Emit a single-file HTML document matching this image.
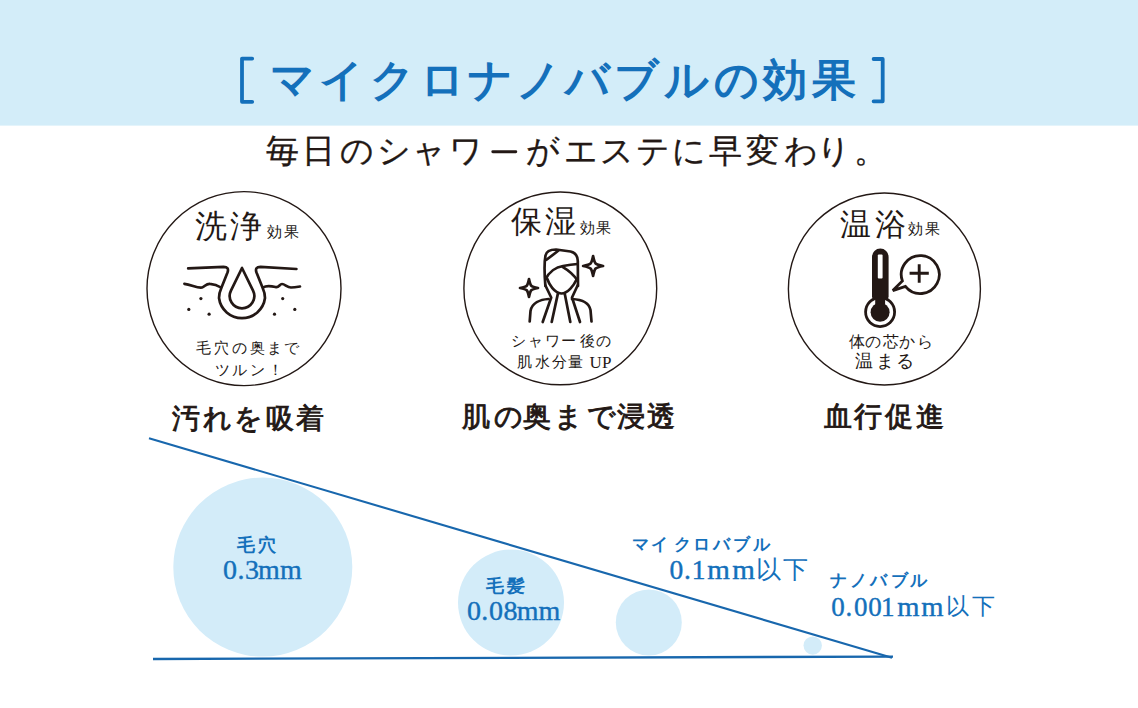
<!DOCTYPE html>
<html lang="ja"><head><meta charset="utf-8">
<style>
html,body{margin:0;padding:0;}
body{width:1138px;height:708px;position:relative;overflow:hidden;background:#fff;font-family:"Liberation Sans",sans-serif;color:#231815;}
.a{position:absolute;white-space:nowrap;line-height:1;}
svg{position:absolute;left:0;top:0;}
</style></head><body>
<svg width="1138" height="708" viewBox="0 0 1138 708">
  <rect x="0" y="0" width="1138" height="125.6" fill="#d3edf9"/>
  <path d="M252.2,58.6 L242,58.6 L242,101.8 L252.2,101.8" fill="none" stroke="#1470bb" stroke-width="3.8" stroke-linecap="round" stroke-linejoin="round"/>
  <path d="M873.6,59 L882.7,59 L882.7,101.3 L873.6,101.3" fill="none" stroke="#1470bb" stroke-width="3.8" stroke-linecap="round" stroke-linejoin="round"/>
  <g fill="none" stroke="#231815" stroke-width="1.4">
    <circle cx="244" cy="288.6" r="97"/>
    <circle cx="560.3" cy="288.4" r="96.4"/>
    <circle cx="884.4" cy="289" r="96"/>
  </g>
  <line x1="492.8" y1="151.8" x2="515.8" y2="151.8" stroke="#231815" stroke-width="2.9" stroke-linecap="round"/>
  <!-- icon 1 pore -->
  <g fill="none" stroke="#231815" stroke-width="2.7" stroke-linecap="round" stroke-linejoin="round">
    <path d="M188.2,268.4 L223.5,266.8 Q229.5,266.8 227.5,272.5 L221.5,287.5 Q219,293 219,298 A23.2,23.2 0 0 0 265,298 Q265,293 262.5,287.5 L256.5,272.5 Q254.5,266.8 260.5,266.8 L296.4,269"/>
    <path d="M242,268 L230.95,290.6 A12.3,12.3 0 1 0 253.05,290.6 Z"/>
    <path d="M184.4,283.8 C192,285 198,288.5 202,287.5 C205,286.5 206,283.5 210,283.8 C214,284 218,285.5 221,287.5"/>
    <path d="M263,287.5 C266,285.5 271,286 275.5,287 C279,288 279.5,284 282,284 C285,284 287,287.5 291,287.5 C294,287.5 297,287 300,286.5"/>
  </g>
  <g fill="#231815">
    <circle cx="200.9" cy="298.6" r="1.6"/><circle cx="188.8" cy="309.4" r="1.6"/><circle cx="209.1" cy="314.2" r="1.6"/>
    <circle cx="282.7" cy="298.6" r="1.6"/><circle cx="294.8" cy="309.4" r="1.6"/><circle cx="274.5" cy="314.2" r="1.6"/>
  </g>
  <!-- icon 2 person -->
  <g fill="none" stroke="#231815" stroke-width="2.7" stroke-linecap="round" stroke-linejoin="round">
    <path d="M545.4,286 C544.5,275 544.2,262 545.5,255.5 C546.5,250.5 551,249.5 556,249.5 L570.5,251.5 C575,252.5 577.6,256 577.8,261 L578,286"/>
    <path d="M546.5,259.8 L558.2,250.8"/>
    <path d="M545.4,279.5 C549,272 556,267 563,266 C568,265.2 573,264.5 577.5,264"/>
    <path d="M562.5,266.8 C568,270 574,275 577.5,280.5"/>
    <path d="M547.3,279 C549,284 554,293 561.3,293.5 C568,293.5 574,285 576.3,280"/>
    <path d="M545.4,285.5 L551.2,297.5 L542.7,322"/>
    <path d="M557.9,293.6 L551.7,322"/>
    <path d="M564.7,293.6 L570.3,322"/>
    <path d="M577.6,285.5 L572,297.5 L580,322"/>
    <path d="M529.7,321.5 L530.5,311 C532,303 540,299.5 548.5,299"/>
    <path d="M572,299 C582,299.5 589,303 590.5,310 L591.5,321.5"/>
    <path d="M529.00,279.00 C530.53,286.47 530.53,286.47 538.00,288.00 C530.53,289.53 530.53,289.53 529.00,297.00 C527.47,289.53 527.47,289.53 520.00,288.00 C527.47,286.47 527.47,286.47 529.00,279.00 Z"/>
    <path d="M593.10,256.00 C594.80,264.30 594.80,264.30 603.10,266.00 C594.80,267.70 594.80,267.70 593.10,276.00 C591.40,267.70 591.40,267.70 583.10,266.00 C591.40,264.30 591.40,264.30 593.10,256.00 Z"/>
  </g>
  <!-- icon 3 thermometer -->
  <g>
    <rect x="872" y="248.6" width="16.6" height="56" rx="8.3" fill="#231815"/>
    <circle cx="880.1" cy="312.1" r="15.9" fill="#231815"/>
    <circle cx="880.1" cy="312.1" r="13.1" fill="#fff"/>
    <rect x="875.2" y="290" width="9.9" height="20" fill="#231815"/>
    <circle cx="880.1" cy="312.3" r="9.5" fill="#231815"/>
    <rect x="877.8" y="254.6" width="4.8" height="24" rx="1" fill="#fff"/>
    <path d="M902.4,281 A19,19 0 1 1 905.4,286.4 L892.8,290.6 Z" fill="none" stroke="#231815" stroke-width="2.8" stroke-linejoin="miter"/>
    <path d="M909.6,273.3 L928.8,273.3 M919.2,264.2 L919.2,282.8" stroke="#231815" stroke-width="2.9"/>
  </g>
  <!-- bubbles -->
  <g fill="#d3ecf9">
    <circle cx="262.8" cy="567.1" r="89.5"/>
    <circle cx="511" cy="602.6" r="53"/>
    <circle cx="648.8" cy="622.4" r="33"/>
    <circle cx="812.7" cy="645.6" r="9.2"/>
  </g>
  <line x1="149" y1="438.2" x2="892" y2="657.8" stroke="#1867ad" stroke-width="2.1"/>
  <line x1="153" y1="659" x2="893" y2="656.6" stroke="#1867ad" stroke-width="2.3"/>
</svg>

<div class="a" style="left:270.2px;top:57.5px;font-family:'Liberation Sans',sans-serif;font-size:44px;font-weight:bold;color:#1470bb">マ</div>
<div class="a" style="left:318.6px;top:57.5px;font-family:'Liberation Sans',sans-serif;font-size:44px;font-weight:bold;color:#1470bb">イ</div>
<div class="a" style="left:369.5px;top:57.5px;font-family:'Liberation Sans',sans-serif;font-size:44px;font-weight:bold;color:#1470bb">ク</div>
<div class="a" style="left:419.7px;top:57.5px;font-family:'Liberation Sans',sans-serif;font-size:44px;font-weight:bold;color:#1470bb">ロ</div>
<div class="a" style="left:468.0px;top:57.5px;font-family:'Liberation Sans',sans-serif;font-size:44px;font-weight:bold;color:#1470bb">ナ</div>
<div class="a" style="left:516.0px;top:57.5px;font-family:'Liberation Sans',sans-serif;font-size:44px;font-weight:bold;color:#1470bb">ノ</div>
<div class="a" style="left:564.7px;top:57.5px;font-family:'Liberation Sans',sans-serif;font-size:44px;font-weight:bold;color:#1470bb">バ</div>
<div class="a" style="left:614.2px;top:57.5px;font-family:'Liberation Sans',sans-serif;font-size:44px;font-weight:bold;color:#1470bb">ブ</div>
<div class="a" style="left:663.5px;top:57.5px;font-family:'Liberation Sans',sans-serif;font-size:44px;font-weight:bold;color:#1470bb">ル</div>
<div class="a" style="left:714.0px;top:57.5px;font-family:'Liberation Sans',sans-serif;font-size:44px;font-weight:bold;color:#1470bb">の</div>
<div class="a" style="left:762.7px;top:57.5px;font-family:'Liberation Sans',sans-serif;font-size:44px;font-weight:bold;color:#1470bb">効</div>
<div class="a" style="left:812.0px;top:57.5px;font-family:'Liberation Sans',sans-serif;font-size:44px;font-weight:bold;color:#1470bb">果</div>
<div class="a" style="left:265.7px;top:134.2px;font-family:'Liberation Sans',sans-serif;font-size:33px;color:#231815;-webkit-text-stroke:0.3px #231815">毎</div>
<div class="a" style="left:301.8px;top:134.2px;font-family:'Liberation Sans',sans-serif;font-size:33px;color:#231815;-webkit-text-stroke:0.3px #231815">日</div>
<div class="a" style="left:339.7px;top:134.2px;font-family:'Liberation Sans',sans-serif;font-size:33px;color:#231815;-webkit-text-stroke:0.3px #231815">の</div>
<div class="a" style="left:377.0px;top:134.2px;font-family:'Liberation Sans',sans-serif;font-size:33px;color:#231815;-webkit-text-stroke:0.3px #231815">シ</div>
<div class="a" style="left:411.5px;top:134.2px;font-family:'Liberation Sans',sans-serif;font-size:33px;color:#231815;-webkit-text-stroke:0.3px #231815">ャ</div>
<div class="a" style="left:449.2px;top:134.2px;font-family:'Liberation Sans',sans-serif;font-size:33px;color:#231815;-webkit-text-stroke:0.3px #231815">ワ</div>
<div class="a" style="left:525.5px;top:134.2px;font-family:'Liberation Sans',sans-serif;font-size:33px;color:#231815;-webkit-text-stroke:0.3px #231815">が</div>
<div class="a" style="left:563.5px;top:134.2px;font-family:'Liberation Sans',sans-serif;font-size:33px;color:#231815;-webkit-text-stroke:0.3px #231815">エ</div>
<div class="a" style="left:600.2px;top:134.2px;font-family:'Liberation Sans',sans-serif;font-size:33px;color:#231815;-webkit-text-stroke:0.3px #231815">ス</div>
<div class="a" style="left:635.5px;top:134.2px;font-family:'Liberation Sans',sans-serif;font-size:33px;color:#231815;-webkit-text-stroke:0.3px #231815">テ</div>
<div class="a" style="left:672.2px;top:134.2px;font-family:'Liberation Sans',sans-serif;font-size:33px;color:#231815;-webkit-text-stroke:0.3px #231815">に</div>
<div class="a" style="left:709.2px;top:134.2px;font-family:'Liberation Sans',sans-serif;font-size:33px;color:#231815;-webkit-text-stroke:0.3px #231815">早</div>
<div class="a" style="left:746.0px;top:134.2px;font-family:'Liberation Sans',sans-serif;font-size:33px;color:#231815;-webkit-text-stroke:0.3px #231815">変</div>
<div class="a" style="left:783.7px;top:134.2px;font-family:'Liberation Sans',sans-serif;font-size:33px;color:#231815;-webkit-text-stroke:0.3px #231815">わ</div>
<div class="a" style="left:816.8px;top:134.2px;font-family:'Liberation Sans',sans-serif;font-size:33px;color:#231815;-webkit-text-stroke:0.3px #231815">り</div>
<div class="a" style="left:854.0px;top:134.2px;font-family:'Liberation Sans',sans-serif;font-size:33px;color:#231815;-webkit-text-stroke:0.3px #231815">。</div>
<div class="a" style="left:194.9px;top:210.0px;font-family:'Liberation Sans',sans-serif;font-size:32px;color:#231815">洗</div>
<div class="a" style="left:229.6px;top:210.0px;font-family:'Liberation Sans',sans-serif;font-size:32px;color:#231815">浄</div>
<div class="a" style="left:266.6px;top:224.2px;font-family:'Liberation Sans',sans-serif;font-size:15px;color:#231815">効</div>
<div class="a" style="left:284.3px;top:224.2px;font-family:'Liberation Sans',sans-serif;font-size:15px;color:#231815">果</div>
<div class="a" style="left:195.7px;top:339.7px;font-family:'Liberation Sans',sans-serif;font-size:15px;color:#231815">毛</div>
<div class="a" style="left:214.4px;top:339.7px;font-family:'Liberation Sans',sans-serif;font-size:15px;color:#231815">穴</div>
<div class="a" style="left:232.0px;top:339.7px;font-family:'Liberation Sans',sans-serif;font-size:15px;color:#231815">の</div>
<div class="a" style="left:249.7px;top:339.7px;font-family:'Liberation Sans',sans-serif;font-size:15px;color:#231815">奥</div>
<div class="a" style="left:267.4px;top:339.7px;font-family:'Liberation Sans',sans-serif;font-size:15px;color:#231815">ま</div>
<div class="a" style="left:284.3px;top:339.7px;font-family:'Liberation Sans',sans-serif;font-size:15px;color:#231815">で</div>
<div class="a" style="left:215.4px;top:361.5px;font-family:'Liberation Sans',sans-serif;font-size:15px;color:#231815">ツ</div>
<div class="a" style="left:232.4px;top:361.5px;font-family:'Liberation Sans',sans-serif;font-size:15px;color:#231815">ル</div>
<div class="a" style="left:249.8px;top:361.5px;font-family:'Liberation Sans',sans-serif;font-size:15px;color:#231815">ン</div>
<div class="a" style="left:267.9px;top:361.5px;font-family:'Liberation Sans',sans-serif;font-size:15px;color:#231815">！</div>
<div class="a" style="left:511.4px;top:205.9px;font-family:'Liberation Sans',sans-serif;font-size:31px;color:#231815">保</div>
<div class="a" style="left:544.8px;top:205.9px;font-family:'Liberation Sans',sans-serif;font-size:31px;color:#231815">湿</div>
<div class="a" style="left:579.5px;top:220.0px;font-family:'Liberation Sans',sans-serif;font-size:15px;color:#231815">効</div>
<div class="a" style="left:596.4px;top:220.0px;font-family:'Liberation Sans',sans-serif;font-size:15px;color:#231815">果</div>
<div class="a" style="left:510.7px;top:332.6px;font-family:'Liberation Sans',sans-serif;font-size:15px;color:#231815">シ</div>
<div class="a" style="left:528.1px;top:332.6px;font-family:'Liberation Sans',sans-serif;font-size:15px;color:#231815">ャ</div>
<div class="a" style="left:544.7px;top:332.6px;font-family:'Liberation Sans',sans-serif;font-size:15px;color:#231815">ワ</div>
<div class="a" style="left:561.0px;top:332.6px;font-family:'Liberation Sans',sans-serif;font-size:15px;color:#231815">ー</div>
<div class="a" style="left:579.5px;top:332.6px;font-family:'Liberation Sans',sans-serif;font-size:15px;color:#231815">後</div>
<div class="a" style="left:595.5px;top:332.6px;font-family:'Liberation Sans',sans-serif;font-size:15px;color:#231815">の</div>
<div class="a" style="left:517.0px;top:354.2px;font-family:'Liberation Sans',sans-serif;font-size:15px;color:#231815">肌</div>
<div class="a" style="left:534.7px;top:354.2px;font-family:'Liberation Sans',sans-serif;font-size:15px;color:#231815">水</div>
<div class="a" style="left:552.3px;top:354.2px;font-family:'Liberation Sans',sans-serif;font-size:15px;color:#231815">分</div>
<div class="a" style="left:568.4px;top:354.2px;font-family:'Liberation Sans',sans-serif;font-size:15px;color:#231815">量</div>
<div class="a" style="left:839.8px;top:208.5px;font-family:'Liberation Sans',sans-serif;font-size:31px;color:#231815">温</div>
<div class="a" style="left:874.9px;top:208.5px;font-family:'Liberation Sans',sans-serif;font-size:31px;color:#231815">浴</div>
<div class="a" style="left:907.9px;top:221.2px;font-family:'Liberation Sans',sans-serif;font-size:15px;color:#231815">効</div>
<div class="a" style="left:924.5px;top:221.2px;font-family:'Liberation Sans',sans-serif;font-size:15px;color:#231815">果</div>
<div class="a" style="left:849.4px;top:334.4px;font-family:'Liberation Sans',sans-serif;font-size:15.5px;color:#231815">体</div>
<div class="a" style="left:865.0px;top:334.4px;font-family:'Liberation Sans',sans-serif;font-size:15.5px;color:#231815">の</div>
<div class="a" style="left:882.6px;top:334.4px;font-family:'Liberation Sans',sans-serif;font-size:15.5px;color:#231815">芯</div>
<div class="a" style="left:899.0px;top:334.4px;font-family:'Liberation Sans',sans-serif;font-size:15.5px;color:#231815">か</div>
<div class="a" style="left:916.5px;top:334.4px;font-family:'Liberation Sans',sans-serif;font-size:15.5px;color:#231815">ら</div>
<div class="a" style="left:855.1px;top:352.3px;font-family:'Liberation Sans',sans-serif;font-size:18px;color:#231815">温</div>
<div class="a" style="left:875.9px;top:352.3px;font-family:'Liberation Sans',sans-serif;font-size:18px;color:#231815">ま</div>
<div class="a" style="left:896.3px;top:352.3px;font-family:'Liberation Sans',sans-serif;font-size:18px;color:#231815">る</div>
<div class="a" style="left:171.9px;top:404.7px;font-family:'Liberation Sans',sans-serif;font-size:28px;color:#231815;-webkit-text-stroke:0.9px #231815">汚</div>
<div class="a" style="left:203.3px;top:404.7px;font-family:'Liberation Sans',sans-serif;font-size:28px;color:#231815;-webkit-text-stroke:0.9px #231815">れ</div>
<div class="a" style="left:234.1px;top:404.7px;font-family:'Liberation Sans',sans-serif;font-size:28px;color:#231815;-webkit-text-stroke:0.9px #231815">を</div>
<div class="a" style="left:265.5px;top:404.7px;font-family:'Liberation Sans',sans-serif;font-size:28px;color:#231815;-webkit-text-stroke:0.9px #231815">吸</div>
<div class="a" style="left:296.0px;top:404.7px;font-family:'Liberation Sans',sans-serif;font-size:28px;color:#231815;-webkit-text-stroke:0.9px #231815">着</div>
<div class="a" style="left:462.2px;top:403.2px;font-family:'Liberation Sans',sans-serif;font-size:28px;color:#231815;-webkit-text-stroke:0.9px #231815">肌</div>
<div class="a" style="left:493.5px;top:403.2px;font-family:'Liberation Sans',sans-serif;font-size:28px;color:#231815;-webkit-text-stroke:0.9px #231815">の</div>
<div class="a" style="left:523.4px;top:403.2px;font-family:'Liberation Sans',sans-serif;font-size:28px;color:#231815;-webkit-text-stroke:0.9px #231815">奥</div>
<div class="a" style="left:554.2px;top:403.2px;font-family:'Liberation Sans',sans-serif;font-size:28px;color:#231815;-webkit-text-stroke:0.9px #231815">ま</div>
<div class="a" style="left:586.5px;top:403.2px;font-family:'Liberation Sans',sans-serif;font-size:28px;color:#231815;-webkit-text-stroke:0.9px #231815">で</div>
<div class="a" style="left:617.3px;top:403.2px;font-family:'Liberation Sans',sans-serif;font-size:28px;color:#231815;-webkit-text-stroke:0.9px #231815">浸</div>
<div class="a" style="left:647.1px;top:403.2px;font-family:'Liberation Sans',sans-serif;font-size:28px;color:#231815;-webkit-text-stroke:0.9px #231815">透</div>
<div class="a" style="left:823.6px;top:402.8px;font-family:'Liberation Sans',sans-serif;font-size:28px;color:#231815;-webkit-text-stroke:0.9px #231815">血</div>
<div class="a" style="left:854.2px;top:402.8px;font-family:'Liberation Sans',sans-serif;font-size:28px;color:#231815;-webkit-text-stroke:0.9px #231815">行</div>
<div class="a" style="left:885.1px;top:402.8px;font-family:'Liberation Sans',sans-serif;font-size:28px;color:#231815;-webkit-text-stroke:0.9px #231815">促</div>
<div class="a" style="left:915.9px;top:402.8px;font-family:'Liberation Sans',sans-serif;font-size:28px;color:#231815;-webkit-text-stroke:0.9px #231815">進</div>
<div class="a" style="left:237.2px;top:536.3px;font-family:'Liberation Sans',sans-serif;font-size:18px;font-weight:bold;color:#1470bb">毛</div>
<div class="a" style="left:258.3px;top:536.3px;font-family:'Liberation Sans',sans-serif;font-size:18px;font-weight:bold;color:#1470bb">穴</div>
<div class="a" style="left:485.5px;top:576.5px;font-family:'Liberation Sans',sans-serif;font-size:18px;font-weight:bold;color:#1470bb">毛</div>
<div class="a" style="left:506.6px;top:576.5px;font-family:'Liberation Sans',sans-serif;font-size:18px;font-weight:bold;color:#1470bb">髪</div>
<div class="a" style="left:632.2px;top:535.5px;font-family:'Liberation Sans',sans-serif;font-size:17px;font-weight:bold;color:#1470bb">マ</div>
<div class="a" style="left:651.0px;top:535.5px;font-family:'Liberation Sans',sans-serif;font-size:17px;font-weight:bold;color:#1470bb">イ</div>
<div class="a" style="left:673.9px;top:535.5px;font-family:'Liberation Sans',sans-serif;font-size:17px;font-weight:bold;color:#1470bb">ク</div>
<div class="a" style="left:692.5px;top:535.5px;font-family:'Liberation Sans',sans-serif;font-size:17px;font-weight:bold;color:#1470bb">ロ</div>
<div class="a" style="left:712.7px;top:535.5px;font-family:'Liberation Sans',sans-serif;font-size:17px;font-weight:bold;color:#1470bb">バ</div>
<div class="a" style="left:733.0px;top:535.5px;font-family:'Liberation Sans',sans-serif;font-size:17px;font-weight:bold;color:#1470bb">ブ</div>
<div class="a" style="left:752.6px;top:535.5px;font-family:'Liberation Sans',sans-serif;font-size:17px;font-weight:bold;color:#1470bb">ル</div>
<div class="a" style="left:829.8px;top:571.5px;font-family:'Liberation Sans',sans-serif;font-size:17px;font-weight:bold;color:#1470bb">ナ</div>
<div class="a" style="left:849.7px;top:571.5px;font-family:'Liberation Sans',sans-serif;font-size:17px;font-weight:bold;color:#1470bb">ノ</div>
<div class="a" style="left:869.5px;top:571.5px;font-family:'Liberation Sans',sans-serif;font-size:17px;font-weight:bold;color:#1470bb">バ</div>
<div class="a" style="left:891.1px;top:571.5px;font-family:'Liberation Sans',sans-serif;font-size:17px;font-weight:bold;color:#1470bb">ブ</div>
<div class="a" style="left:910.3px;top:571.5px;font-family:'Liberation Sans',sans-serif;font-size:17px;font-weight:bold;color:#1470bb">ル</div>
<div class="a" style="left:756.3px;top:557.4px;font-family:'Liberation Sans',sans-serif;font-size:25px;color:#1470bb;">以</div>
<div class="a" style="left:782.5px;top:557.4px;font-family:'Liberation Sans',sans-serif;font-size:25px;color:#1470bb;">下</div>
<div class="a" style="left:946.4px;top:594.8px;font-family:'Liberation Sans',sans-serif;font-size:23px;color:#1470bb;">以</div>
<div class="a" style="left:972.3px;top:594.8px;font-family:'Liberation Sans',sans-serif;font-size:23px;color:#1470bb;">下</div>
<div class="a" style="left:589.5px;top:353.9px;font-family:'Liberation Serif',serif;font-size:17px;color:#231815">U</div>
<div class="a" style="left:602.0px;top:353.9px;font-family:'Liberation Serif',serif;font-size:17px;color:#231815">P</div>
<div class="a" style="left:222.9px;top:556.4px;font-family:'Liberation Serif',serif;font-size:28px;color:#1470bb;-webkit-text-stroke:0.4px #1470bb">0</div>
<div class="a" style="left:237.5px;top:556.4px;font-family:'Liberation Serif',serif;font-size:28px;color:#1470bb;-webkit-text-stroke:0.4px #1470bb">.</div>
<div class="a" style="left:244.9px;top:556.4px;font-family:'Liberation Serif',serif;font-size:28px;color:#1470bb;-webkit-text-stroke:0.4px #1470bb">3</div>
<div class="a" style="left:258.1px;top:556.4px;font-family:'Liberation Serif',serif;font-size:28px;color:#1470bb;-webkit-text-stroke:0.4px #1470bb">m</div>
<div class="a" style="left:279.9px;top:556.4px;font-family:'Liberation Serif',serif;font-size:28px;color:#1470bb;-webkit-text-stroke:0.4px #1470bb">m</div>
<div class="a" style="left:467.0px;top:596.5px;font-family:'Liberation Serif',serif;font-size:28px;color:#1470bb;-webkit-text-stroke:0.4px #1470bb">0</div>
<div class="a" style="left:481.2px;top:596.5px;font-family:'Liberation Serif',serif;font-size:28px;color:#1470bb;-webkit-text-stroke:0.4px #1470bb">.</div>
<div class="a" style="left:488.9px;top:596.5px;font-family:'Liberation Serif',serif;font-size:28px;color:#1470bb;-webkit-text-stroke:0.4px #1470bb">0</div>
<div class="a" style="left:503.4px;top:596.5px;font-family:'Liberation Serif',serif;font-size:28px;color:#1470bb;-webkit-text-stroke:0.4px #1470bb">8</div>
<div class="a" style="left:516.7px;top:596.5px;font-family:'Liberation Serif',serif;font-size:28px;color:#1470bb;-webkit-text-stroke:0.4px #1470bb">m</div>
<div class="a" style="left:538.6px;top:596.5px;font-family:'Liberation Serif',serif;font-size:28px;color:#1470bb;-webkit-text-stroke:0.4px #1470bb">m</div>
<div class="a" style="left:669.5px;top:555.5px;font-family:'Liberation Serif',serif;font-size:27.5px;color:#1470bb;-webkit-text-stroke:0.4px #1470bb">0</div>
<div class="a" style="left:684.0px;top:555.5px;font-family:'Liberation Serif',serif;font-size:27.5px;color:#1470bb;-webkit-text-stroke:0.4px #1470bb">.</div>
<div class="a" style="left:691.8px;top:555.5px;font-family:'Liberation Serif',serif;font-size:27.5px;color:#1470bb;-webkit-text-stroke:0.4px #1470bb">1</div>
<div class="a" style="left:707.5px;top:555.5px;font-family:'Liberation Serif',serif;font-size:27.5px;color:#1470bb;-webkit-text-stroke:0.4px #1470bb;transform:scaleX(1.06)">m</div>
<div class="a" style="left:732.7px;top:555.5px;font-family:'Liberation Serif',serif;font-size:27.5px;color:#1470bb;-webkit-text-stroke:0.4px #1470bb;transform:scaleX(1.06)">m</div>
<div class="a" style="left:831.3px;top:593.5px;font-family:'Liberation Serif',serif;font-size:27px;color:#1470bb;-webkit-text-stroke:0.4px #1470bb">0</div>
<div class="a" style="left:845.6px;top:593.5px;font-family:'Liberation Serif',serif;font-size:27px;color:#1470bb;-webkit-text-stroke:0.4px #1470bb">.</div>
<div class="a" style="left:854.0px;top:593.5px;font-family:'Liberation Serif',serif;font-size:27px;color:#1470bb;-webkit-text-stroke:0.4px #1470bb">0</div>
<div class="a" style="left:868.2px;top:593.5px;font-family:'Liberation Serif',serif;font-size:27px;color:#1470bb;-webkit-text-stroke:0.4px #1470bb">0</div>
<div class="a" style="left:881.1px;top:593.5px;font-family:'Liberation Serif',serif;font-size:27px;color:#1470bb;-webkit-text-stroke:0.4px #1470bb">1</div>
<div class="a" style="left:897.6px;top:593.5px;font-family:'Liberation Serif',serif;font-size:27px;color:#1470bb;-webkit-text-stroke:0.4px #1470bb;transform:scaleX(1.06)">m</div>
<div class="a" style="left:922.1px;top:593.5px;font-family:'Liberation Serif',serif;font-size:27px;color:#1470bb;-webkit-text-stroke:0.4px #1470bb;transform:scaleX(1.06)">m</div>
</body></html>
